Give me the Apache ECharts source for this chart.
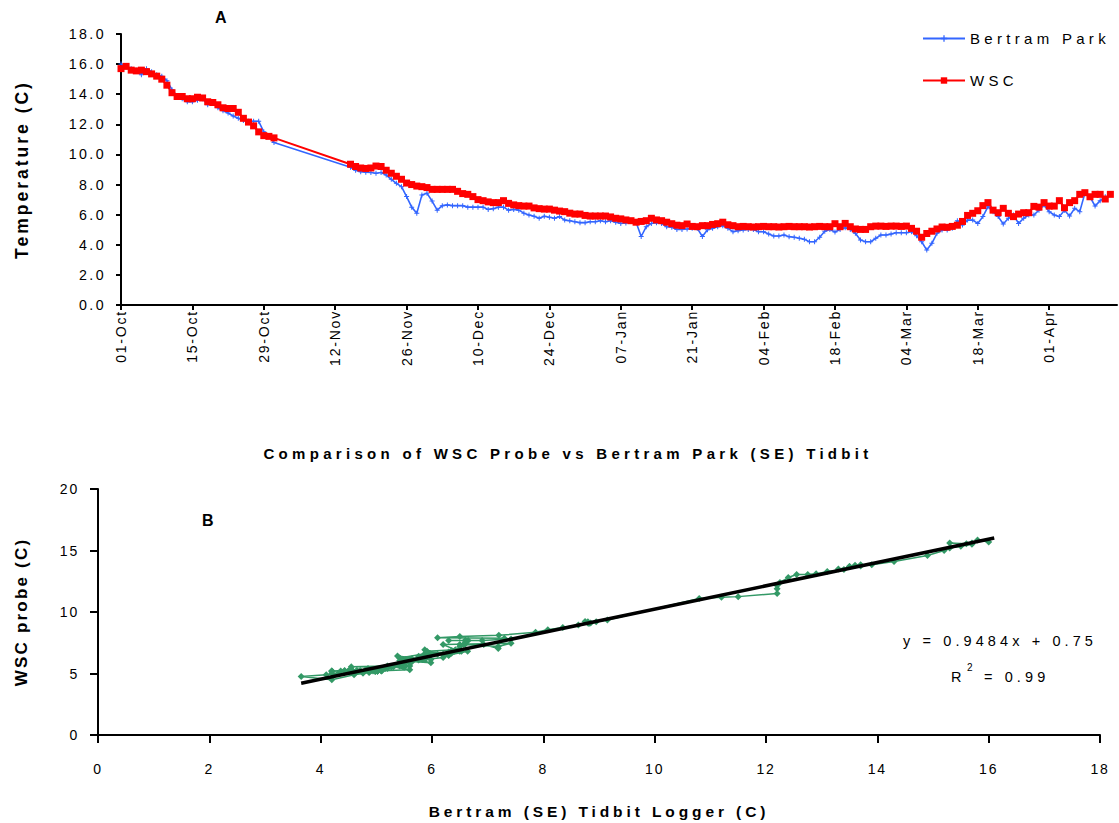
<!DOCTYPE html>
<html>
<head>
<meta charset="utf-8">
<script src="https://cdn.jsdelivr.net/npm/echarts@6/dist/echarts.min.js"></script>
<style>
  html, body { margin: 0; padding: 0; background: #fff; }
  #chart { width: 1119px; height: 823px; }
  /* the original is drawn with wide letter spacing, mimic it per text size */
  #chart text[style*="14px"] { letter-spacing: 1.8px; }
  #chart text[style*="14.2px"] { letter-spacing: 2.4px; }
  #chart text[style*="14.5px"] { letter-spacing: 4.1px; }
  #chart text[style*="15px"] { letter-spacing: 4.3px; }
  #chart text[style*="15.5px"] { letter-spacing: 3.9px; }
  #chart text[style*="17px"] { letter-spacing: 2.2px; }
  #chart text[style*="17.5px"] { letter-spacing: 3px; }
</style>
</head>
<body>
<div id="chart"></div>
<script>
// date axis labels, one every 14 days starting 01-Oct
const dateTicks = ['01-Oct', '15-Oct', '29-Oct', '12-Nov', '26-Nov', '10-Dec', '24-Dec',
  '07-Jan', '21-Jan', '04-Feb', '18-Feb', '04-Mar', '18-Mar', '01-Apr']

// daily readings 01-Oct .. 31-Oct (day 0..30)
const bertramOct = [16.0, 15.8, 15.7, 15.6, 15.3, 15.7, 15.5, 15.3, 15.2, 14.9,
  14.3, 13.9, 13.7, 13.5, 13.5, 13.6, 13.7, 13.3, 13.4, 13.1,
  12.9, 12.75, 12.55, 12.4, 12.25, 12.2, 12.2, 12.2, 11.5, 11.2, 10.8]
const wscOct = [15.7, 15.85, 15.6, 15.55, 15.6, 15.5, 15.35, 15.2, 15.0, 14.6,
  14.1, 13.85, 13.85, 13.7, 13.7, 13.8, 13.75, 13.5, 13.45, 13.3,
  13.1, 13.05, 13.05, 12.8, 12.4, 12.15, 11.9, 11.5, 11.25, 11.2, 11.1]

// logging resumes 15-Nov (day 45)
const novStart = 45
const bertramNov = [9.15, 8.95, 8.85, 8.82, 8.8, 8.75, 8.8, 8.63, 8.35, 8.08,
  7.86, 7.2, 6.5, 6.1, 7.3, 7.42, 6.9, 6.3, 6.6, 6.65,
  6.6, 6.6, 6.6, 6.5, 6.5, 6.5, 6.5, 6.35, 6.4, 6.5,
  6.5, 6.3, 6.35, 6.3, 6.1, 5.98, 5.9, 5.76, 5.9, 5.83,
  5.76, 5.87, 5.64, 5.6, 5.53, 5.47, 5.47, 5.53, 5.53, 5.6,
  5.53, 5.6, 5.5, 5.42, 5.45, 5.6, 5.5, 4.55, 5.2, 5.42,
  5.47, 5.42, 5.2, 5.16, 5.02, 5.02, 5.05, 5.09, 5.09, 4.55,
  5.0, 5.09, 5.2, 5.27, 5.09, 4.87, 4.94, 4.98, 5.02, 5.02,
  4.87, 4.87, 4.71, 4.58, 4.58, 4.65, 4.54, 4.5, 4.43, 4.36,
  4.2, 4.2, 4.5, 4.9, 5.02, 4.85, 5.02, 5.13, 5.02, 4.76,
  4.32, 4.2, 4.2, 4.43, 4.65, 4.65, 4.71, 4.8, 4.8, 4.8,
  4.87, 4.6, 4.2, 3.65, 4.1, 4.76, 4.98, 4.98, 5.1, 5.6,
  5.31, 5.64, 5.64, 5.42, 5.87, 6.53, 6.2, 5.87, 5.38, 5.76,
  5.98, 5.42, 5.76, 5.98, 5.98, 6.3, 6.64, 6.2, 5.98, 5.87,
  6.3, 5.91, 6.42, 6.2, 7.42, 7.19, 6.57, 6.93, 7.19]
const wscNov = [9.35, 9.2, 9.1, 9.07, 9.1, 9.23, 9.2, 8.95, 8.75, 8.55,
  8.35, 8.1, 8.0, 7.9, 7.86, 7.8, 7.68, 7.68, 7.68, 7.68,
  7.68, 7.55, 7.4, 7.35, 7.2, 7.0, 6.93, 6.85, 6.8, 6.8,
  6.93, 6.75, 6.65, 6.6, 6.57, 6.57, 6.45, 6.4, 6.37, 6.37,
  6.3, 6.24, 6.2, 6.1, 6.04, 6.04, 5.95, 5.91, 5.91, 5.91,
  5.91, 5.85, 5.76, 5.72, 5.65, 5.6, 5.5, 5.55, 5.6, 5.76,
  5.65, 5.6, 5.5, 5.4, 5.3, 5.27, 5.38, 5.22, 5.2, 5.27,
  5.27, 5.35, 5.4, 5.5, 5.33, 5.27, 5.2, 5.22, 5.2, 5.18,
  5.2, 5.22, 5.2, 5.2, 5.18, 5.2, 5.22, 5.2, 5.2, 5.2,
  5.18, 5.2, 5.22, 5.2, 5.2, 5.4, 5.2, 5.42, 5.2, 5.05,
  5.02, 5.02, 5.2, 5.24, 5.24, 5.22, 5.24, 5.24, 5.22, 5.24,
  5.09, 4.9, 4.5, 4.75, 4.9, 5.05, 5.18, 5.16, 5.22, 5.3,
  5.55, 5.95, 6.09, 6.26, 6.6, 6.8, 6.3, 6.13, 6.42, 6.09,
  5.87, 6.04, 6.13, 6.13, 6.55, 6.5, 6.8, 6.57, 6.57, 6.93,
  6.46, 6.8, 6.93, 7.35, 7.46, 7.19, 7.35, 7.35, 7.04, 7.35]

// fitted line of panel B (ends)
const fitLine = [[3.65, 4.21], [16.1, 16.02]]

function byDay(vals, start) {
  return vals.map((v, i) => [start + i, v])
}
function pairs(xs, ys) {
  const n = Math.min(xs.length, ys.length)
  const out = []
  for (let i = 0; i < n; i++) out.push([xs[i], ys[i]])
  return out
}

const bertramSeries = byDay(bertramOct, 0).concat(byDay(bertramNov, novStart))
const wscSeries = byDay(wscOct, 0).concat(byDay(wscNov, novStart))
const scatterPts = pairs(bertramOct, wscOct).concat(pairs(bertramNov, wscNov))
const tickDays = dateTicks.map((t, i) => i * 14)

const FONT = '"Liberation Sans", Arial, sans-serif'
const axisBlack = { lineStyle: { color: '#000', width: 2 } }
const plusPath = 'path://M2,0H3V2H5V3H3V5H2V3H0V2H2Z'

const chart = echarts.init(document.getElementById('chart'), null, { renderer: 'svg' })
chart.setOption({
  animation: false,
  textStyle: { fontFamily: FONT, color: '#000' },
  grid: [
    { left: 121, top: 34, width: 996, height: 271 },
    { left: 98, top: 489, width: 1002, height: 246 }
  ],
  legend: {
    orient: 'vertical',
    left: 917,
    top: 26,
    itemWidth: 42,
    itemHeight: 8,
    itemGap: 27,
    textStyle: { fontSize: 15, color: '#000', fontFamily: FONT },
    data: ['Bertram Park', 'WSC']
  },
  xAxis: [
    {
      gridIndex: 0,
      type: 'value',
      min: 0,
      max: 195.3,
      axisLine: axisBlack,
      axisTick: { customValues: tickDays, length: 5, lineStyle: { color: '#000', width: 2 } },
      axisLabel: {
        customValues: tickDays,
        rotate: 90,
        margin: 5,
        fontSize: 14,
        color: '#000',
        formatter: v => dateTicks[Math.round(v / 14)]
      },
      splitLine: { show: false }
    },
    {
      gridIndex: 1,
      type: 'value',
      min: 0,
      max: 18,
      interval: 2,
      axisLine: axisBlack,
      axisTick: { length: 8, lineStyle: { color: '#000', width: 2 } },
      axisLabel: { margin: 27, fontSize: 14, color: '#000' },
      splitLine: { show: false },
      name: 'Bertram (SE) Tidbit Logger (C)',
      nameLocation: 'middle',
      nameGap: 68,
      nameTextStyle: { fontSize: 15.5, fontWeight: 'bold', color: '#000' }
    }
  ],
  yAxis: [
    {
      gridIndex: 0,
      type: 'value',
      min: 0,
      max: 18,
      interval: 2,
      axisLine: { show: true, lineStyle: { color: '#000', width: 2 } },
      axisTick: { show: true, length: 5, lineStyle: { color: '#000', width: 2 } },
      axisLabel: { margin: 15, fontSize: 14.2, color: '#000', formatter: v => v.toFixed(1) },
      splitLine: { show: false },
      name: 'Temperature (C)',
      nameLocation: 'middle',
      nameGap: 90,
      nameTextStyle: { fontSize: 17.5, fontWeight: 'bold', color: '#000' }
    },
    {
      gridIndex: 1,
      type: 'value',
      min: 0,
      max: 20,
      interval: 5,
      axisLine: { show: true, lineStyle: { color: '#000', width: 2 } },
      axisTick: { show: true, length: 8, lineStyle: { color: '#000', width: 2 } },
      axisLabel: { margin: 19, fontSize: 14, color: '#000' },
      splitLine: { show: false },
      name: 'WSC probe (C)',
      nameLocation: 'middle',
      nameGap: 68,
      nameTextStyle: { fontSize: 17, fontWeight: 'bold', color: '#000' }
    }
  ],
  graphic: [
    { type: 'text', left: 215, top: 9, style: { text: 'A', font: 'bold 16px ' + FONT, fill: '#000' } },
    { type: 'text', left: 202, top: 512, style: { text: 'B', font: 'bold 16px ' + FONT, fill: '#000' } },
    {
      type: 'text', x: 568, y: 453,
      style: {
        text: 'Comparison of WSC Probe vs Bertram Park (SE) Tidbit',
        font: 'bold 15px ' + FONT, fill: '#000', align: 'center', verticalAlign: 'middle'
      }
    },
    {
      type: 'text', x: 1097, y: 641,
      style: { text: 'y = 0.9484x + 0.75', font: '14.5px ' + FONT, fill: '#000', align: 'right', verticalAlign: 'middle' }
    },
    // R² written in three pieces so the raised 2 sits clear of its neighbours
    {
      type: 'text', x: 951, y: 677,
      style: { text: 'R', font: '14.5px ' + FONT, fill: '#000', align: 'left', verticalAlign: 'middle' }
    },
    {
      type: 'text', x: 967, y: 667,
      style: { text: '2', font: '10px ' + FONT, fill: '#000', align: 'left', verticalAlign: 'middle' }
    },
    {
      type: 'text', x: 984, y: 677,
      style: { text: '= 0.99', font: '14.5px ' + FONT, fill: '#000', align: 'left', verticalAlign: 'middle' }
    }
  ],
  series: [
    {
      name: 'Bertram Park',
      type: 'line',
      xAxisIndex: 0,
      yAxisIndex: 0,
      data: bertramSeries,
      symbol: plusPath,
      symbolSize: 5,
      color: '#3366FF',
      lineStyle: { width: 1.6, color: '#3366FF' },
      itemStyle: { color: '#3366FF' }
    },
    {
      name: 'WSC',
      type: 'line',
      xAxisIndex: 0,
      yAxisIndex: 0,
      data: wscSeries,
      symbol: 'rect',
      symbolSize: 7,
      color: '#FF0000',
      lineStyle: { width: 2, color: '#FF0000' },
      itemStyle: { color: '#FF0000' }
    },
    {
      name: 'pairs',
      type: 'line',
      xAxisIndex: 1,
      yAxisIndex: 1,
      data: scatterPts,
      symbol: 'diamond',
      symbolSize: 7,
      lineStyle: { width: 1.5, color: '#339966' },
      itemStyle: { color: '#339966' }
    },
    {
      name: 'fit',
      type: 'line',
      xAxisIndex: 1,
      yAxisIndex: 1,
      data: fitLine,
      symbol: 'none',
      lineStyle: { width: 3.5, color: '#000' },
      z: 5
    }
  ]
})
</script>
</body>
</html>
